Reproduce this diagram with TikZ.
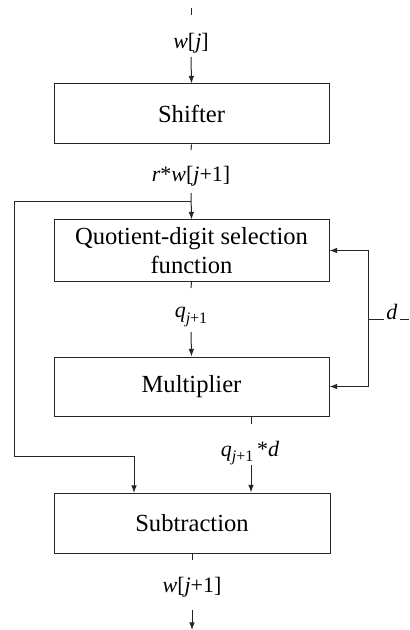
\documentclass[tikz,border=0pt]{standalone}
\usepackage{fontspec}
\setmainfont{Liberation Serif}
\usetikzlibrary{arrows.meta}
\newcommand{\lowsub}[1]{\raisebox{-0.55ex}{\fontsize{8}{9}\selectfont #1}}
\begin{document}
\begin{tikzpicture}[x=0.5pt,y=-0.5pt,
  box/.style={draw=black!85,line width=0.5pt,rectangle,inner sep=0pt,minimum width=137.5pt,font=\fontsize{12.3}{14.5}\selectfont,align=center},
  lbl/.style={inner sep=0pt,font=\fontsize{11}{13}\selectfont},
  wire/.style={draw=black!85,line width=0.5pt},
  arr/.style={wire,-{Latex[length=3.8pt,width=2.8pt]}}]
\useasboundingbox (0,0) rectangle (409,630);
% boxes
\node[box,minimum height=30pt] (shifter) at (191.5,114) {Shifter};
\node[box,minimum height=30.5pt] (qsel) at (191.5,250.5) {Quotient-digit selection\\function};
\node[box,minimum height=29.5pt] (mult) at (191.5,386.5) {Multiplier};
\node[box,minimum height=30pt,minimum width=138pt] (sub) at (192,523) {Subtraction};
% labels
\node[lbl] (wj) at (191,43) {\textit{w}[\textit{j}]};
\node[lbl] (rw) at (191,176) {\textit{r}*\textit{w}[\textit{j}+1]};
\node[lbl] (q) at (191,317) {\textit{q}\lowsub{\textit{j}+1}};
\node[lbl] (qd) at (250,453) {\textit{q}\lowsub{\textit{j}+1}\,*\textit{d}};
\node[lbl] (wj1) at (192,587) {\textit{w}[\textit{j}+1]};
\node[lbl,anchor=base] (d) at (392,319) {\textit{d}};
% coordinates
\coordinate (t0) at (191,8);
\coordinate (t1) at (191,15);
\coordinate (a0) at (191,57);
\coordinate (s1) at (191,150);
\coordinate (r0) at (191,193);
\coordinate (br) at (191,202);
\coordinate (lc) at (14,456);
\coordinate (sin) at (134,493);
\coordinate (q1) at (191,288);
\coordinate (q2) at (191,332);
\coordinate (m0) at (251,416);
\coordinate (m1) at (251,424);
\coordinate (m2) at (251,465);
\coordinate (u0) at (192,553);
\coordinate (u1) at (192,560);
\coordinate (u2) at (192,610);
\coordinate (u3) at (192,630);
\coordinate (dj) at (368,319);
\coordinate (dl) at (384,319);
\coordinate (dr) at (400,319);
\coordinate (de) at (409,319);
% connectors
\draw[wire] (t0) -- (t1);
\draw[arr] (a0) -- (shifter.north);
\draw[wire] (shifter.south) -- (s1);
\draw[arr] (r0) -- (qsel.north);
\draw[arr] (br) -| (lc) -| (sin);
\draw[wire] (qsel.south) -- (q1);
\draw[arr] (q2) -- (mult.north);
\draw[wire] (m0) -- (m1);
\draw[arr] (m2) -- (m2 |- sub.north);
\draw[wire] (sub.south) -- (u1);
\draw[arr] (u2) -- (u3);
\draw[arr] (dj) |- (qsel.east);
\draw[arr] (dj) |- (mult.east);
\draw[wire] (dj) -- (dl);
\draw[wire] (dr) -- (de);
\end{tikzpicture}
\end{document}
